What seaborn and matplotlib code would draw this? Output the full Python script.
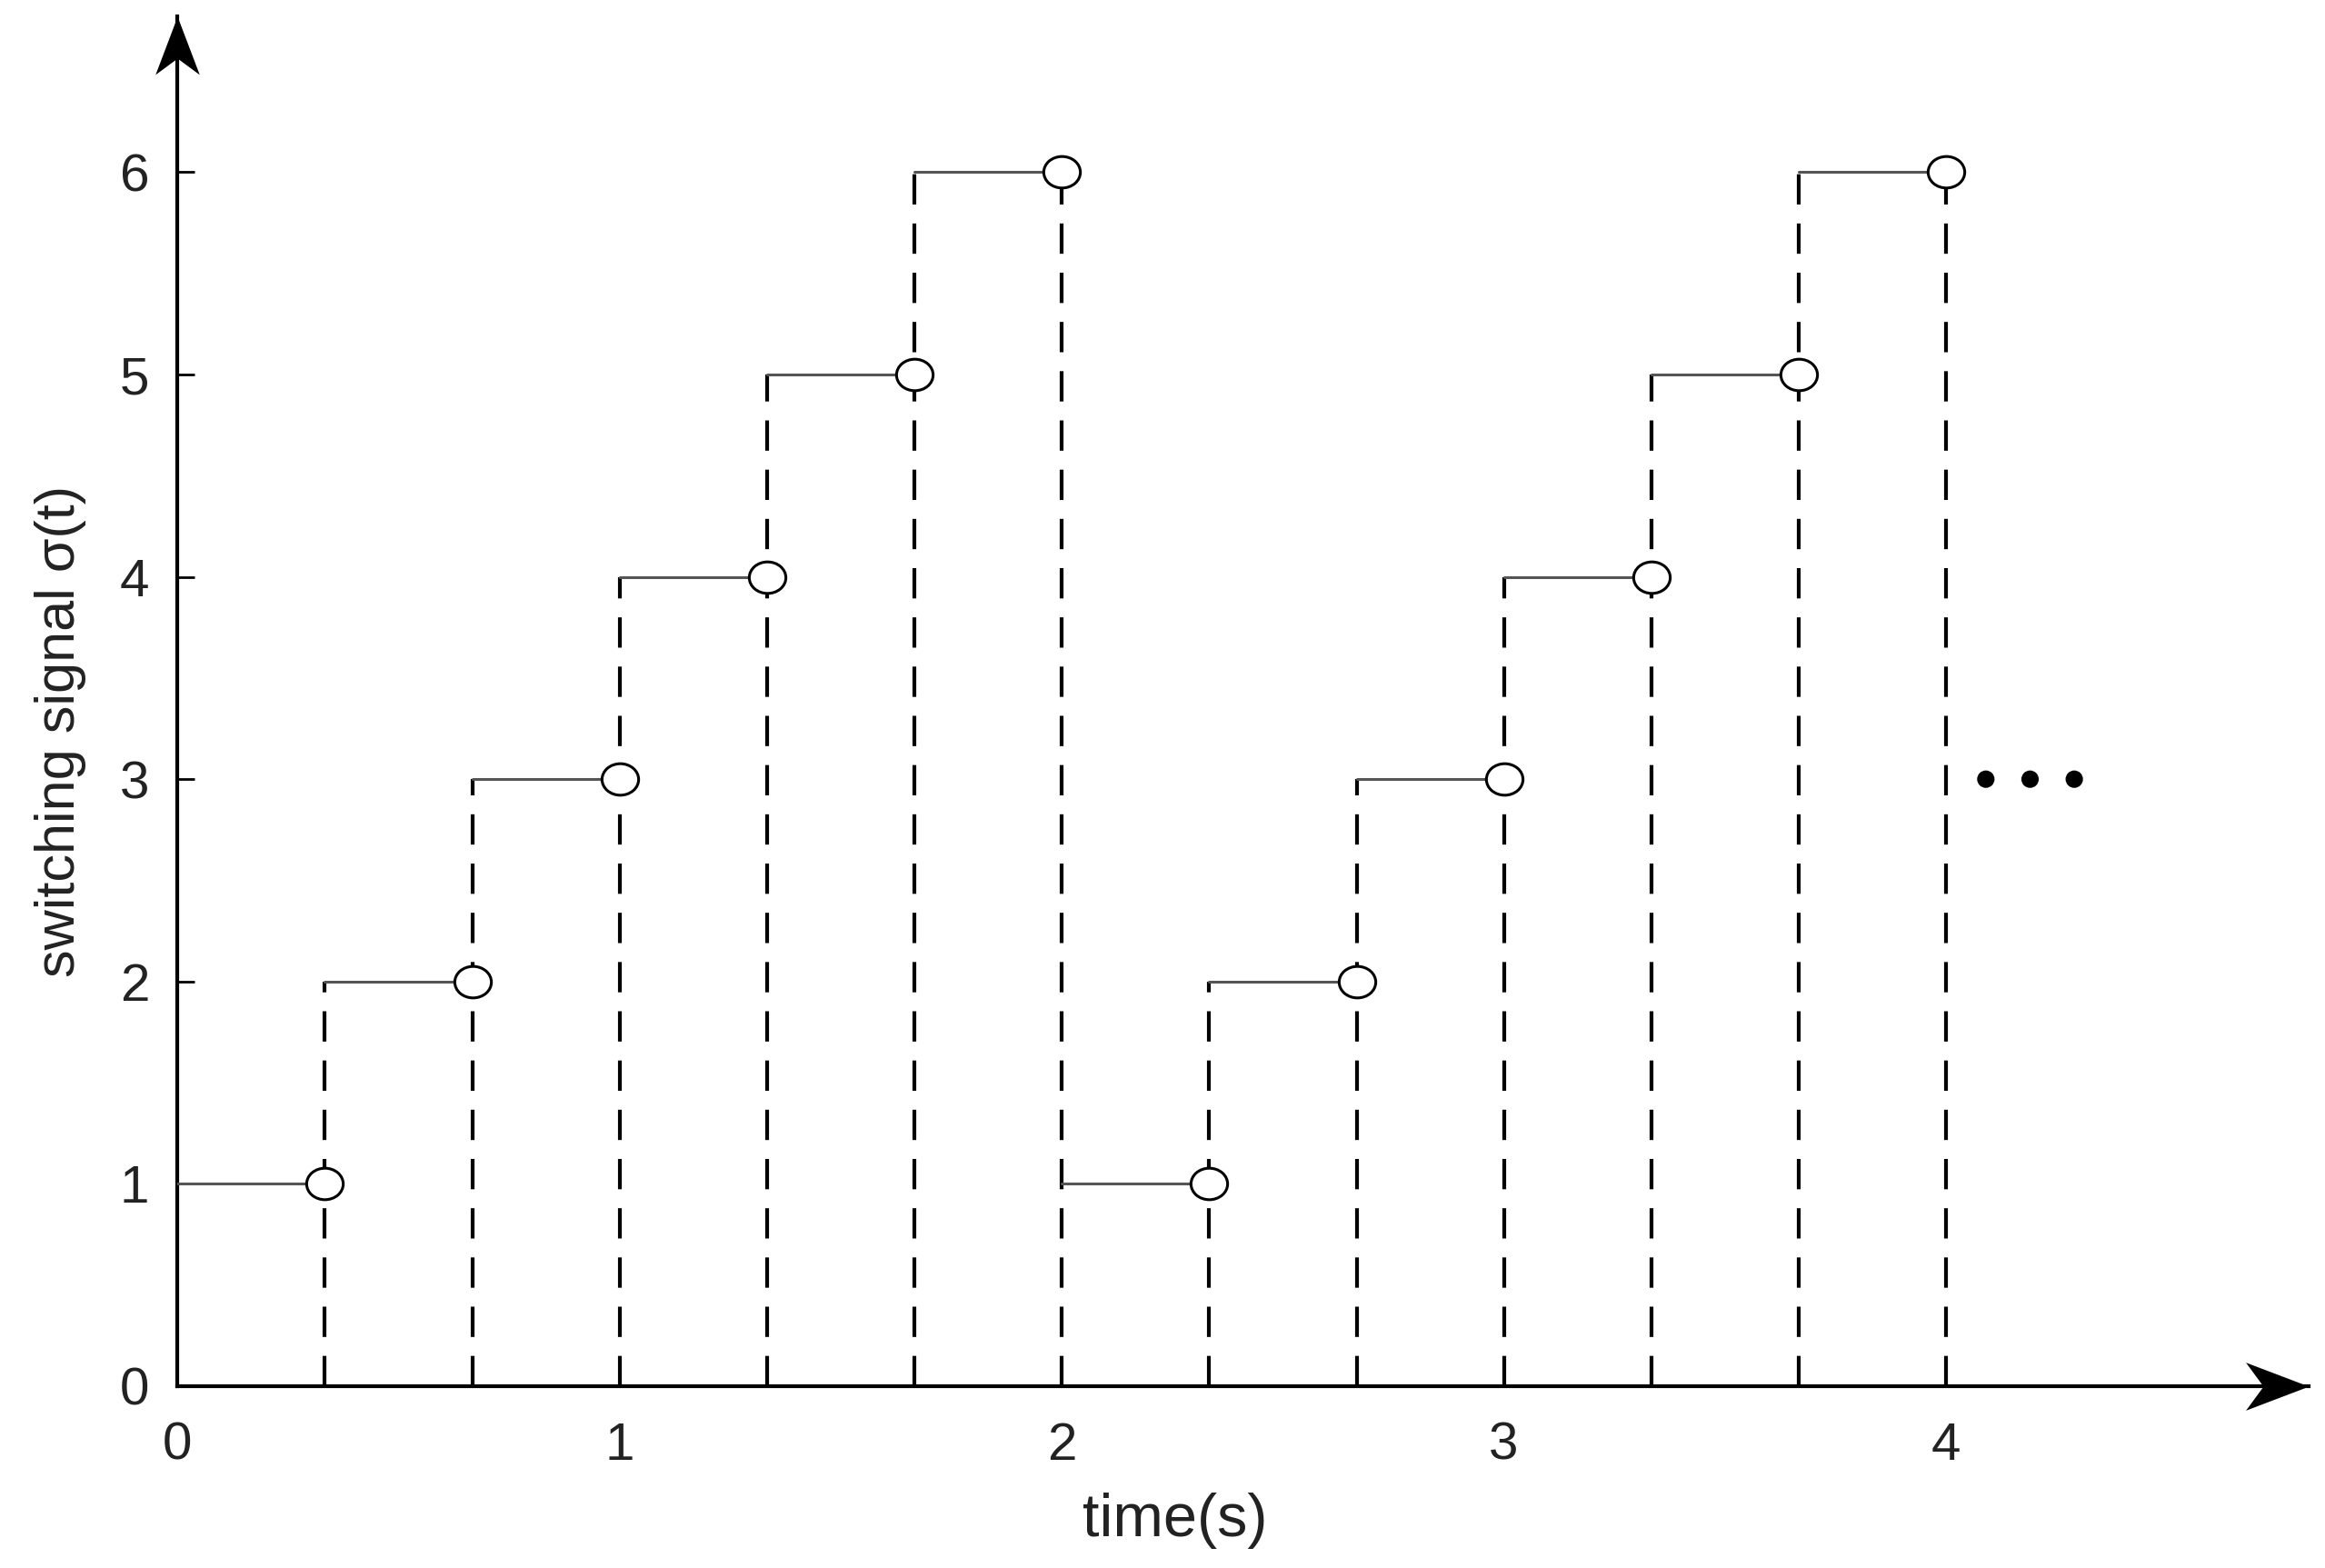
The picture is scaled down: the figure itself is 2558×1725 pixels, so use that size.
import pandas as pd
import matplotlib.pyplot as plt
import seaborn as sns
from matplotlib.path import Path
from matplotlib.transforms import Affine2D
from matplotlib.markers import MarkerStyle

# switching signal data: each mode is active on [t_start, t_end)
levels = [1, 2, 3, 4, 5, 6, 1, 2, 3, 4, 5, 6]
t_start = [0.0, 0.333, 0.667, 1.0, 1.333, 1.667, 2.0, 2.333, 2.667, 3.0, 3.333, 3.667]
t_end = [0.333, 0.667, 1.0, 1.333, 1.667, 2.0, 2.333, 2.667, 3.0, 3.333, 3.667, 4.0]
# height of the dashed line at every switching instant
dash_top = [2, 3, 4, 5, 6, 6, 2, 3, 4, 5, 6, 6]
# the "..." after the last period
dots_x = [4.09, 4.19, 4.29]
dots_y = [3, 3, 3]

x_ticks = [0, 1, 2, 3, 4]
y_ticks = [0, 1, 2, 3, 4, 5, 6]

sns.set_theme(style="white")
plt.rcParams['font.family'] = ['Liberation Sans', 'DejaVu Sans']
plt.rcParams['lines.scale_dashes'] = False

# segments in long form for seaborn
seg = pd.DataFrame({
    'seg': list(range(len(levels))) * 2,
    't': t_start + t_end,
    'level': levels + levels,
})
ends = pd.DataFrame({'t': t_end, 'level': levels})

fig = plt.figure(figsize=(25.58, 17.25), dpi=100)
ax = fig.add_axes([195 / 2558, 200 / 1725, 2345 / 2558, 1507 / 1725])

xmax, ymax = 4.82, 6.77

# dashed switching lines
ax.vlines(t_end, 0, dash_top, colors='black', linewidth=3,
          linestyles=(0, (24, 15)), zorder=2)

# horizontal pieces of the step signal
sns.lineplot(data=seg, x='t', y='level', units='seg', estimator=None,
             color='#555555', linewidth=2.2, ax=ax, zorder=3)

# open circles at the right end of each piece (slightly flattened, like the original)
ell = Path.unit_circle().transformed(Affine2D().scale(1, 0.86))
sns.scatterplot(data=ends, x='t', y='level', marker=MarkerStyle(ell), s=29 ** 2,
                color='white', edgecolor='black', linewidth=2.2, ax=ax, zorder=4)

sns.scatterplot(x=dots_x, y=dots_y, s=190, color='black', edgecolor='none', ax=ax, zorder=4)

ax.set_xlim(0, xmax)
ax.set_ylim(0, ymax)
ax.set_xticks(x_ticks)
ax.set_yticks(y_ticks)
ax.tick_params(axis='both', direction='in', length=14, width=2, colors='black',
               labelcolor='#222222', labelsize=42)
ax.tick_params(axis='x', pad=28, bottom=True)
ax.tick_params(axis='y', pad=22, left=True)

ax.spines['top'].set_visible(False)
ax.spines['right'].set_visible(False)
for side in ['left', 'bottom']:
    ax.spines[side].set_linewidth(3)
    ax.spines[side].set_color('black')

# barbed arrow heads at the ends of the axes, tip at the origin of the path
head = Path([(0, 0), (-1.0, 0.38), (-0.72, 0), (-1.0, -0.38), (0, 0)],
            [Path.MOVETO, Path.LINETO, Path.LINETO, Path.LINETO, Path.CLOSEPOLY])
right_head = MarkerStyle(head)
up_head = MarkerStyle(head.transformed(Affine2D().rotate_deg(90)))
ax.plot([xmax], [0], marker=right_head, markersize=100, color='black',
        markeredgewidth=0, clip_on=False, zorder=5)
ax.plot([0], [ymax], marker=up_head, markersize=92, color='black',
        markeredgewidth=0, clip_on=False, zorder=5)

ax.set_xlabel('time(s)', fontsize=48, color='#222222', va='center')
ax.xaxis.set_label_coords(0.468, -0.098)
ax.set_ylabel('switching signal σ(t)', fontsize=44, color='#222222', va='center')
ax.yaxis.set_label_coords(-0.055, 0.478)

plt.savefig('out.png', dpi=100, facecolor='white')
